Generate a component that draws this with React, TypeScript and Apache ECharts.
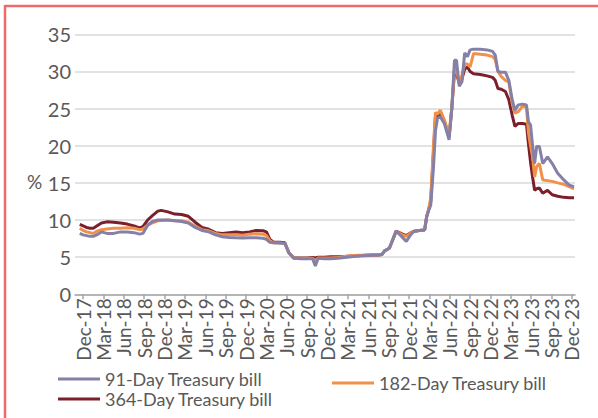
import React, { useEffect, useRef } from "react";
import * as echarts from "echarts";

// x positions: months elapsed since Dec-2017
const months = [
  -0.5, 0, 0.5, 1, 1.5, 2, 2.7, 3.5, 4.5, 5.5, 6.5, 7.5, 8.3, 8.8, 9.5, 10.2, 11, 11.5, 12.5, 13.5, 14.5, 15.5, 16.5,
  17.5, 18.5, 19.5, 20.5, 21.5, 22.5, 23.5, 24.5, 25.5, 26.5, 27, 27.5, 28, 29, 29.7, 30.3, 31, 32, 33, 33.8, 34.2, 34.6,
  35.5, 36.5, 37.5, 38.5, 39.5, 40.5, 41.5, 42.5, 43.5, 44, 44.4, 45.1, 45.5, 46.1, 46.8, 47.6, 48.3, 48.8, 49.5, 50.3,
  50.6, 50.9, 51.2, 51.6, 51.9, 52.2, 52.6, 53.2, 53.9, 54.3, 54.7, 55, 55.4, 55.8, 56.2, 56.6, 57, 57.5, 58.5, 59.5,
  60.3, 60.7, 61.1, 61.6, 62.2, 62.7, 63.2, 63.6, 64.1, 64.7, 65.3, 65.6, 65.9, 66.2, 66.5, 66.8, 67.2, 67.7, 68.4,
  69.1, 69.9, 70.8, 71.6, 72.3,
];

const tbill91 = [
  8.2, 8.0, 7.9, 7.8, 7.8, 8.0, 8.4, 8.2, 8.2, 8.4, 8.4, 8.3, 8.1, 8.2, 9.3, 9.8, 10.0, 10.0, 10.0, 9.9, 9.8, 9.6, 9.0,
  8.6, 8.4, 8.0, 7.75, 7.65, 7.6, 7.57, 7.6, 7.6, 7.55, 7.4, 7.0, 6.95, 6.9, 6.85, 5.6, 4.9, 4.8, 4.8, 4.8, 3.8, 4.85,
  4.8, 4.8, 4.85, 4.95, 5.05, 5.15, 5.2, 5.25, 5.3, 5.35, 5.85, 6.2, 7.1, 8.5, 7.9, 7.1, 8.1, 8.5, 8.6, 8.65,
  10.45, 11.3, 12.0, 17.0, 22.0, 23.7, 23.9, 23.0, 20.8, 25.0, 31.5, 31.5, 28.0, 28.6, 32.5, 32.0, 32.9, 33.0, 33.0, 32.9,
  32.7, 32.2, 30.0, 29.9, 29.9, 28.8, 26.2, 24.8, 25.5, 25.6, 25.5, 23.2, 22.8, 20.0, 17.6, 19.9, 19.9, 17.6, 18.5,
  17.6, 16.3, 15.4, 14.7, 14.5,
];

const tbill182 = [
  8.9, 8.6, 8.4, 8.3, 8.2, 8.5, 8.7, 8.8, 8.9, 8.9, 8.95, 8.9, 8.7, 8.8, 9.3, 9.6, 9.9, 9.95, 10.0, 9.9, 9.9, 9.7, 9.2,
  8.7, 8.55, 8.2, 8.0, 8.0, 8.0, 7.95, 8.1, 8.15, 8.1, 7.9, 7.2, 6.95, 6.9, 6.85, 5.6, 4.9, 4.85, 4.85, 4.85, 4.5, 4.9,
  4.9, 4.9, 4.95, 5.1, 5.2, 5.25, 5.25, 5.28, 5.3, 5.35, 5.85, 6.2, 7.1, 8.5, 8.1, 7.8, 8.3, 8.5, 8.6, 8.65,
  10.45, 11.5, 13.0, 20.0, 24.5, 24.2, 24.8, 23.5, 21.5, 25.0, 30.5, 30.2, 28.4, 29.5, 31.0, 31.0, 30.6, 32.4, 32.3, 32.2,
  32.0, 31.6, 30.0, 29.3, 28.8, 28.6, 25.7, 24.4, 24.6, 25.3, 25.2, 21.7, 20.0, 18.5, 15.8, 17.2, 17.6, 15.4, 15.3,
  15.2, 15.0, 14.8, 14.5, 14.2,
];

const tbill364 = [
  9.4, 9.2, 9.0, 8.9, 8.9, 9.2, 9.6, 9.75, 9.7, 9.6, 9.45, 9.2, 8.95, 9.1, 10.0, 10.6, 11.2, 11.3, 11.1, 10.8, 10.75, 10.5, 9.7,
  9.0, 8.75, 8.3, 8.2, 8.3, 8.4, 8.3, 8.4, 8.6, 8.55, 8.4, 7.4, 7.05, 7.0, 6.95, 5.6, 4.9, 4.9, 4.9, 4.95, 4.9, 5.0,
  5.0, 5.05, 5.05, 5.1, 5.15, 5.2, 5.25, 5.28, 5.3, 5.35, 5.85, 6.2, 7.1, 8.5, 8.2, 7.9, 8.3, 8.5, 8.6, 8.65,
  10.45, 11.4, 12.5, 19.0, 24.0, 23.8, 24.6, 23.3, 21.2, 25.0, 30.0, 29.7, 28.4, 29.0, 30.3, 30.6, 30.0, 29.7, 29.6, 29.4,
  29.2, 28.8, 27.7, 27.6, 27.3, 26.2, 24.1, 22.6, 23.0, 23.0, 22.9, 20.2, 17.8, 15.8, 14.0, 14.2, 14.3, 13.6, 14.0,
  13.4, 13.2, 13.05, 13.0, 13.0,
];

const tickLabels = [
  "Dec-17", "Mar-18", "Jun-18", "Sep-18", "Dec-18", "Mar-19", "Jun-19", "Sep-19", "Dec-19",
  "Mar-20", "Jun-20", "Sep-20", "Dec-20", "Mar-21", "Jun-21", "Sep-21", "Dec-21",
  "Mar-22", "Jun-22", "Sep-22", "Dec-22", "Mar-23", "Jun-23", "Sep-23", "Dec-23",
];

const seriesNames = ["91-Day Treasury bill", "182-Day Treasury bill", "364-Day Treasury bill"];
const colors = ["#8580a8", "#f0914a", "#7c1f2c"];

export default function App() {
  const ref = useRef<HTMLDivElement>(null);
  useEffect(() => {
    if (!ref.current) return;
    const chart = echarts.init(ref.current, null, { renderer: "svg" });
    const tickVals = tickLabels.map((_, i) => i * 3);
    const font = "Lato";
    const mk = (vals: number[]) => months.map((m, i) => [m, vals[i]]);
    const legendBase = {
      orient: "horizontal",
      padding: 0,
      icon: "rect",
      itemWidth: 42,
      itemHeight: 3,
      itemGap: 5,
      textStyle: { fontFamily: font, fontSize: 18, color: "#595959", lineHeight: 20 },
    };
    chart.setOption({
      animation: false,
      color: colors,
      textStyle: { fontFamily: font },
      grid: { left: 75, right: 23, top: 34.3, bottom: 123.7, containLabel: false },
      legend: [
        { ...legendBase, data: [seriesNames[0]], left: 58, top: 369 },
        { ...legendBase, data: [seriesNames[1]], left: 332, top: 373 },
        { ...legendBase, data: [seriesNames[2]], left: 58, top: 389 },
      ],
      graphic: [
        { type: "line", shape: { x1: 5, y1: 6, x2: 598, y2: 6 }, style: { stroke: "#ee6b6b", lineWidth: 2.5 } },
        { type: "line", shape: { x1: 5, y1: 5, x2: 5, y2: 418 }, style: { stroke: "#ee6b6b", lineWidth: 2.5 } },
        {
          type: "text",
          left: 27,
          top: 172,
          style: { text: "%", fontFamily: font, fontSize: 19, fill: "#595959" },
        },
      ],
      xAxis: {
        type: "value",
        min: -1.2,
        max: 72.45,
        axisLine: { show: true, lineStyle: { color: "#a6a6a6", width: 1.5 } },
        axisTick: {
          show: true,
          customValues: tickVals,
          length: 5,
          inside: false,
          lineStyle: { color: "#a6a6a6", width: 1.5 },
        },
        axisLabel: {
          customValues: tickVals,
          rotate: 90,
          margin: 4,
          fontFamily: font,
          fontSize: 19,
          color: "#595959",
          formatter: (v: number) => tickLabels[Math.round(v / 3)] ?? "",
        },
        splitLine: { show: false },
      },
      yAxis: {
        type: "value",
        min: 0,
        max: 35,
        interval: 5,
        axisLine: { show: false },
        axisTick: { show: false },
        axisLabel: { fontFamily: font, fontSize: 20, color: "#595959", margin: 4 },
        splitLine: { lineStyle: { color: "#d9d9d9", width: 1.5 } },
      },
      series: [
        { name: seriesNames[0], type: "line", data: mk(tbill91), showSymbol: false, lineStyle: { width: 3, color: colors[0] }, z: 4 },
        { name: seriesNames[1], type: "line", data: mk(tbill182), showSymbol: false, lineStyle: { width: 3, color: colors[1] }, z: 3 },
        { name: seriesNames[2], type: "line", data: mk(tbill364), showSymbol: false, lineStyle: { width: 3, color: colors[2] }, z: 2 },
      ],
    });
    return () => chart.dispose();
  }, []);
  return (
    <div
      ref={ref}
      style={{ position: "fixed", left: 0, top: 0, width: 598, height: 418, background: "#ffffff" }}
    />
  );
}
